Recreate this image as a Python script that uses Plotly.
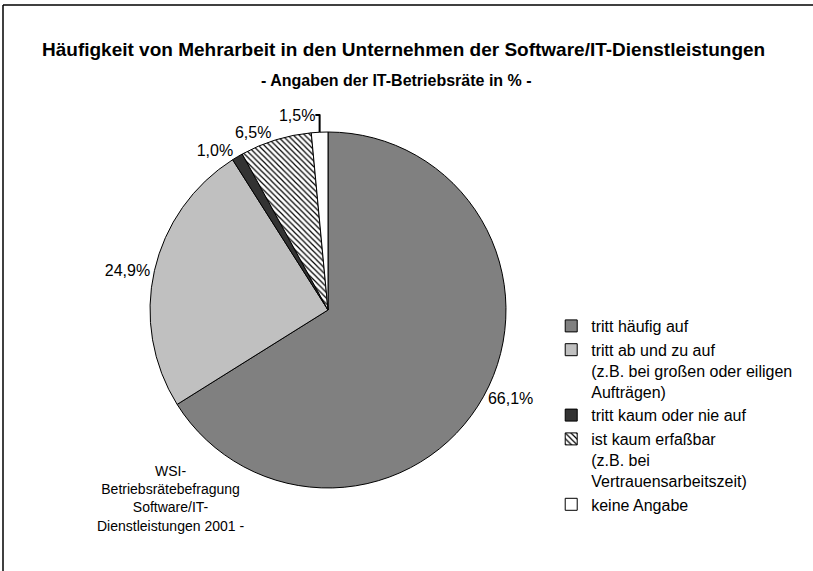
import plotly.graph_objects as go

# --- data ---
categories = [
    "tritt häufig auf",
    "tritt ab und zu auf<br>(z.B. bei großen oder eiligen<br>Aufträgen)",
    "tritt kaum oder nie auf",
    "ist kaum erfaßbar<br>(z.B. bei<br>Vertrauensarbeitszeit)",
    "keine Angabe",
]
shares = [66.1, 24.9, 1.0, 6.5, 1.5]
colors = ["#808080", "#c0c0c0", "#333333", "#ffffff", "#ffffff"]
patterns = ["", "", "", "\\", ""]

labels_txt = [f"{v:.1f}%".replace(".", ",") for v in shares]

fig = go.Figure()
fig.add_trace(go.Pie(
    labels=categories,
    values=shares,
    text=labels_txt,
    textinfo="text",
    textposition="outside",
    sort=False,
    direction="clockwise",
    rotation=0,
    marker=dict(
        colors=colors,
        line=dict(color="black", width=1),
        pattern=dict(shape=patterns, fgcolor="black", size=4, solidity=0.3),
    ),
    textfont=dict(size=16, color="black"),
    domain=dict(x=[0.1845, 0.6224], y=[0.1454, 0.7688]),
    showlegend=True,
))

fig.update_layout(
    width=813, height=571,
    margin=dict(l=0, r=0, t=0, b=0),
    paper_bgcolor="white",
    plot_bgcolor="white",
    font=dict(family="Liberation Sans, Arial, sans-serif", size=16, color="black"),
    legend=dict(
        x=0.678, y=1 - 309 / 571, xanchor="left", yanchor="top",
        font=dict(size=16),
        itemwidth=30,
        valign="top",
        tracegroupgap=0,
    ),
    annotations=[
        dict(text="<b>Häufigkeit von Mehrarbeit in den Unternehmen der Software/IT-Dienstleistungen</b>",
             x=0.496, y=1 - 50 / 571, xref="paper", yref="paper", showarrow=False,
             font=dict(size=19), xanchor="center", yanchor="middle"),
        dict(text="<b>- Angaben der IT-Betriebsräte in % -</b>",
             x=0.488, y=1 - 80 / 571, xref="paper", yref="paper", showarrow=False,
             font=dict(size=16), xanchor="center", yanchor="middle"),
        dict(text="WSI-<br>Betriebsrätebefragung<br>Software/IT-<br>Dienstleistungen 2001 -",
             x=170 / 813, y=1 - 498 / 571, xref="paper", yref="paper", showarrow=False,
             font=dict(size=14), xanchor="center", yanchor="middle", align="center"),
    ],
    shapes=[
        dict(type="line", xref="paper", yref="paper", x0=3 / 813, x1=1, y0=1 - 5 / 571, y1=1 - 5 / 571,
             line=dict(color="black", width=1.5)),
        dict(type="line", xref="paper", yref="paper", x0=3 / 813, x1=3 / 813, y0=0, y1=1 - 5 / 571,
             line=dict(color="black", width=1.5)),
    ],
)

fig.write_html("out.html", config={"displayModeBar": False},
               post_script="document.body.style.margin='0';")
